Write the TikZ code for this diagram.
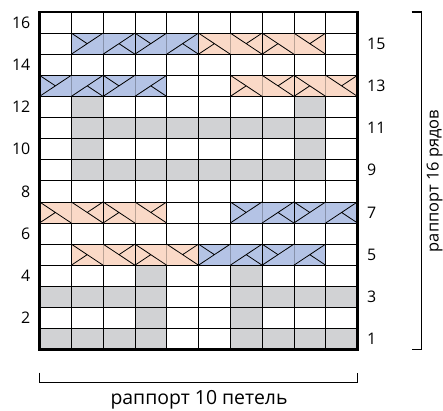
\documentclass[tikz,border=0pt]{standalone}
\usepackage{fontspec}
\setmainfont{Open Sans}
\definecolor{cblue}{RGB}{180,195,229}
\definecolor{corange}{RGB}{250,217,199}
\definecolor{cgray}{RGB}{209,210,212}
\def\gx{39.5}\def\cw{31.8}\def\gy{60.4}\def\rh{21.1}
\newcommand\grayrun[3]{\fill[cgray] ({\gx+(#1-1)*\cw},{\gy+(#3-1)*\rh}) rectangle ({\gx+#2*\cw},{\gy+#3*\rh});}
\newcommand\bluecable[2]{%
  \pgfmathsetmacro\xa{\gx+(#1-1)*\cw}\pgfmathsetmacro\ya{\gy+(#2-1)*\rh}%
  \fill[cblue] (\xa,\ya) rectangle ++(2*\cw,\rh);
  \draw[midline,draw=cblue!75!black] (\xa+\cw,\ya) -- ++(0,\rh);
  \draw[gridline] (\xa,\ya) rectangle ++(2*\cw,\rh);
  \draw[cableline] (\xa,\ya) -- ++(\cw,\rh) (\xa,\ya+\rh) -- ++(0.5*\cw,-0.5*\rh)
     (\xa+\cw,\ya) -- ++(\cw,\rh) (\xa+1.5*\cw,\ya+0.5*\rh) -- ++(0.5*\cw,-0.5*\rh);}
\newcommand\orangecable[2]{%
  \pgfmathsetmacro\xa{\gx+(#1-1)*\cw}\pgfmathsetmacro\ya{\gy+(#2-1)*\rh}%
  \fill[corange] (\xa,\ya) rectangle ++(2*\cw,\rh);
  \draw[midline,draw=corange!75!black] (\xa+\cw,\ya) -- ++(0,\rh);
  \draw[gridline] (\xa,\ya) rectangle ++(2*\cw,\rh);
  \draw[cableline] (\xa,\ya+\rh) -- ++(\cw,-\rh) (\xa,\ya) -- ++(0.5*\cw,0.5*\rh)
     (\xa+\cw,\ya+\rh) -- ++(\cw,-\rh) (\xa+1.5*\cw,\ya+0.5*\rh) -- ++(0.5*\cw,0.5*\rh);}
\begin{document}
\begin{tikzpicture}[x=1bp,y=1bp,
  gridline/.style={line width=0.7bp,black},
  midline/.style={line width=0.7bp},
  cableline/.style={line width=0.8bp,black},
  frameline/.style={line width=2.4bp,black},
  bracket/.style={line width=1.1bp,black},
  numlab/.style={font=\fontsize{16}{16}\selectfont,inner sep=0pt},
  replab/.style={font=\fontsize{19.5}{19.5}\selectfont,inner sep=0pt},
  rowlab/.style={font=\fontsize{16.5}{16.5}\selectfont,inner sep=0pt}]
\useasboundingbox (0,0) rectangle (443,410);
\fill[white] (0,0) rectangle (443,410);
% gray cells
\grayrun{2}{2}{12}\grayrun{9}{9}{12}
\grayrun{2}{9}{11}
\grayrun{2}{2}{10}\grayrun{9}{9}{10}
\grayrun{2}{9}{9}
\grayrun{4}{4}{4}\grayrun{7}{7}{4}
\grayrun{1}{4}{3}\grayrun{7}{10}{3}
\grayrun{4}{4}{2}\grayrun{7}{7}{2}
\grayrun{1}{4}{1}\grayrun{7}{10}{1}
% grid
\foreach \i in {1,...,9} \draw[gridline] ({\gx+\i*\cw},\gy) -- ({\gx+\i*\cw},{\gy+16*\rh});
\foreach \j in {1,...,15} \draw[gridline] (\gx,{\gy+\j*\rh}) -- ({\gx+10*\cw},{\gy+\j*\rh});
% cables
\bluecable{2}{15}\bluecable{4}{15}\orangecable{6}{15}\orangecable{8}{15}
\bluecable{1}{13}\bluecable{3}{13}\orangecable{7}{13}\orangecable{9}{13}
\orangecable{1}{7}\orangecable{3}{7}\bluecable{7}{7}\bluecable{9}{7}
\orangecable{2}{5}\orangecable{4}{5}\bluecable{6}{5}\bluecable{8}{5}
% frame
\draw[frameline] (\gx,\gy) rectangle ({\gx+10*\cw},{\gy+16*\rh});
% row labels
\foreach \r in {2,4,...,16} \node[numlab,anchor=east] (l\r) at (30.5,{\gy+(\r-0.5)*\rh}) {\r};
\foreach \r in {1,3,...,15} \node[numlab,anchor=west] (l\r) at (367,{\gy+(\r-0.5)*\rh}) {\r};
% right bracket
\coordinate (rt0) at (411.5,398);
\coordinate (rt1) at (421.7,398);
\coordinate (rb1) at (421.7,60.5);
\coordinate (rb0) at (411.5,60.5);
\draw[bracket] (rt0) -- (rt1) -- (rb1) -- (rb0);
\node[rowlab,anchor=base,rotate=90] (rows) at (438.5,229) {раппорт 16 рядов};
% bottom bracket
\coordinate (bl0) at (39.5,37.5);
\coordinate (bl1) at (39.5,27.3);
\coordinate (br1) at (357.5,27.3);
\coordinate (br0) at (357.5,37.5);
\draw[bracket] (bl0) -- (bl1) -- (br1) -- (br0);
\node[replab,anchor=base] (cols) at (199,6) {раппорт 10 петель};
\end{tikzpicture}
\end{document}
